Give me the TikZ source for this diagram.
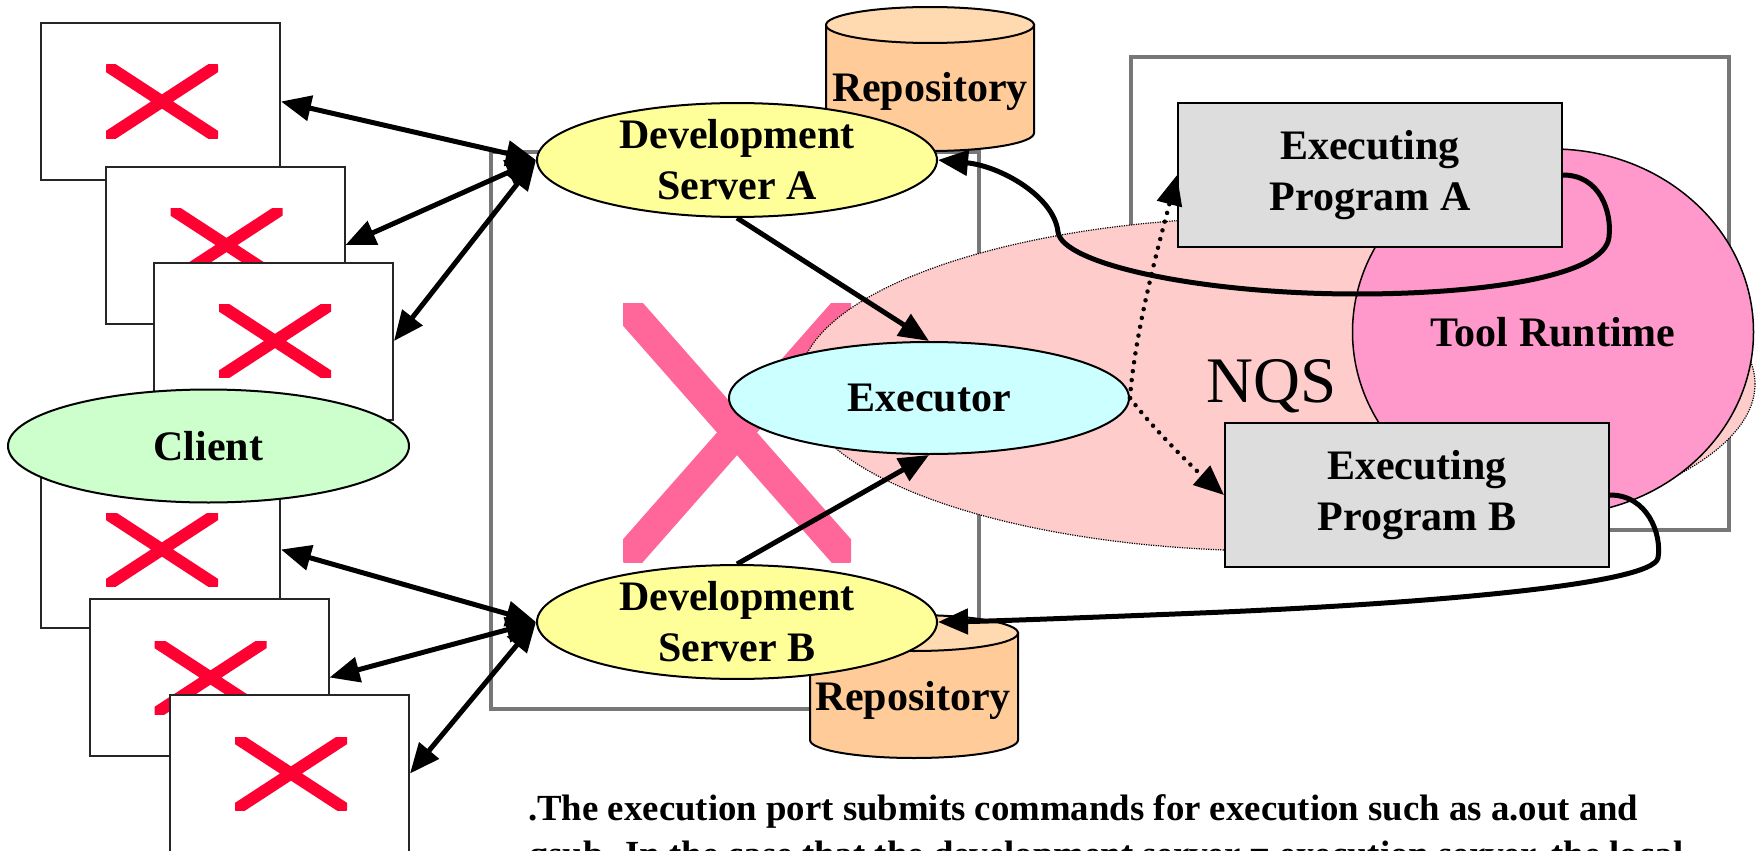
\documentclass[tikz,border=0pt]{standalone}
\usepackage{fontspec}
\setmainfont{Liberation Serif}
\usetikzlibrary{shapes.geometric,arrows.meta}
\definecolor{devyellow}{HTML}{FFFF99}
\definecolor{clientgreen}{HTML}{CCFFCC}
\definecolor{execcyan}{HTML}{CCFFFF}
\definecolor{nqspink}{HTML}{FFCCCC}
\definecolor{toolpink}{HTML}{FF99CC}
\definecolor{progray}{HTML}{DDDDDD}
\definecolor{repobody}{HTML}{FFCC99}
\definecolor{repotop}{HTML}{FFD9B0}
\definecolor{xred}{HTML}{FF0033}
\definecolor{xpink}{HTML}{FF6699}
\definecolor{framegray}{HTML}{777777}
\newcommand\drawclient[3]{%
  \node[cbox] (#1) at (#2,#3) {};
  \begin{scope}[shift={(#2+1.5,#3)}]
    \clip (-56,-36.5) rectangle (56,36.5);
    \draw[xred, line width=12pt] (-56,-36.5) -- (56,36.5) (56,-36.5) -- (-56,36.5);
  \end{scope}}
\begin{document}
\begin{tikzpicture}[x=1pt,y=-1pt,
  lbl/.style={font=\fontsize{42}{51}\selectfont\bfseries, align=center},
  oval/.style={ellipse, draw, line width=2pt, minimum width=400pt, minimum height=112pt, inner sep=0pt, lbl},
  cbox/.style={rectangle, draw=black!85, line width=2pt, fill=white, minimum width=239pt, minimum height=157pt, inner sep=0pt},
  progbox/.style={rectangle, draw, line width=2pt, fill=progray, minimum width=384pt, minimum height=144pt, inner sep=0pt, lbl},
  frame/.style={draw=framegray, line width=4pt},
  link/.style={line width=5pt},
  dots/.style={line width=4.5pt, dash pattern=on 0pt off 9pt, line cap=round},
  repo/.style={draw, line width=2pt},
  >={Triangle[length=30pt,width=25pt]}]
\path[use as bounding box, clip] (0,0) rectangle (1757,851);

% frames
\draw[frame] (491,152) rectangle (979,709);
\draw[frame] (1131,57) rectangle (1729,530);

% big pink cross
\begin{scope}
  \clip (623,303) rectangle (851,562);
  \draw[xpink, line width=30pt] (623,303) -- (851,562) (851,303) -- (623,562);
\end{scope}

% NQS and Tool Runtime
\node[ellipse, fill=nqspink, draw, line width=1.2pt, dash pattern=on 1.2pt off 1.2pt,
      minimum width=956pt, minimum height=334pt, inner sep=0pt] (nqs) at (1277,384) {};
\node[font=\fontsize{65}{70}\selectfont] (nqslbl) at (1272,386) {NQS};
\node[ellipse, fill=toolpink, draw, line width=1.5pt, minimum width=401pt, minimum height=366pt,
      inner sep=0pt, lbl] (tool) at (1553,332) {Tool Runtime};

% repositories
\path[repo, fill=repobody] (826,25) -- (826,133) .. controls (826,143) and (872.6,151) .. (930,151)
  .. controls (987.4,151) and (1034,143) .. (1034,133) -- (1034,25) -- cycle;
\path[repo, fill=repotop] (930,25) ellipse [x radius=104, y radius=18];
\node[lbl, anchor=base] (repoA) at (930,102) {Repository};

\path[repo, fill=repobody] (810,633) -- (810,740) .. controls (810,750) and (856.6,758) .. (914,758)
  .. controls (971.4,758) and (1018,750) .. (1018,740) -- (1018,633) -- cycle;
\path[repo, fill=repotop] (914,633) ellipse [x radius=104, y radius=18];
\node[lbl, anchor=base] (repoB) at (913,710) {Repository};

% clients
\drawclient{c1}{160.5}{101.5}
\drawclient{c2}{225}{245}
\drawclient{c3}{273.5}{341}
\drawclient{c4}{160.5}{549.5}
\drawclient{c5}{209}{677.5}
\drawclient{c6}{289.5}{773.5}
\node[oval, fill=clientgreen, minimum width=401pt, minimum height=113pt] (client) at (208.5,446) {Client};

% servers
\node[oval, fill=devyellow] (devA) at (737,160) {Development\\Server A};
\node[oval, fill=devyellow] (devB) at (737,622) {Development\\Server B};
\node[oval, fill=execcyan] (exec) at (929,398) {Executor};

% programs
\node[progbox] (pa) at (1370,175) {Executing\\Program A};
\node[progbox] (pb) at (1417,495) {Executing\\Program B};

% connectors
\foreach \c in {c1,c2,c3} \draw[link,<->] (\c.east) -- (devA.west);
\foreach \c in {c4,c5,c6} \draw[link,<->] (\c.east) -- (devB.west);
\draw[link,->] (devA.south) -- (exec.north);
\draw[link,->] (devB.north) -- (exec.south);
\draw[link,->] (pa.east) .. controls (1600,175) and (1612,212) .. (1609,237)
  .. controls (1605,277) and (1480,294) .. (1357,294)
  .. controls (1200,294) and (1062,264) .. (1058,232)
  .. controls (1054,196) and (1000,166) .. (devA.east);
\draw[link,->] (pb.east) .. controls (1648,495) and (1662,535) .. (1658,558)
  .. controls (1652,585) and (1420,604) .. (1200,613)
  .. controls (1100,617) and (1000,621) .. (devB.east);
\draw[dots,->] (exec.east) .. controls (1135,330) and (1160,240) .. (pa.west);
\draw[dots,->] (exec.east) .. controls (1150,425) and (1190,465) .. (pb.west);

% note
\node[font=\fontsize{36.8}{46}\selectfont\bfseries, anchor=base west, inner sep=0pt] (note1) at (528,820)
  {.The execution port submits commands for execution such as a.out and};
\node[font=\fontsize{36.8}{46}\selectfont\bfseries, anchor=base west, inner sep=0pt] (note2) at (528,866)
  {qsub. In the case that the development server = execution server, the local};
\end{tikzpicture}
\end{document}
